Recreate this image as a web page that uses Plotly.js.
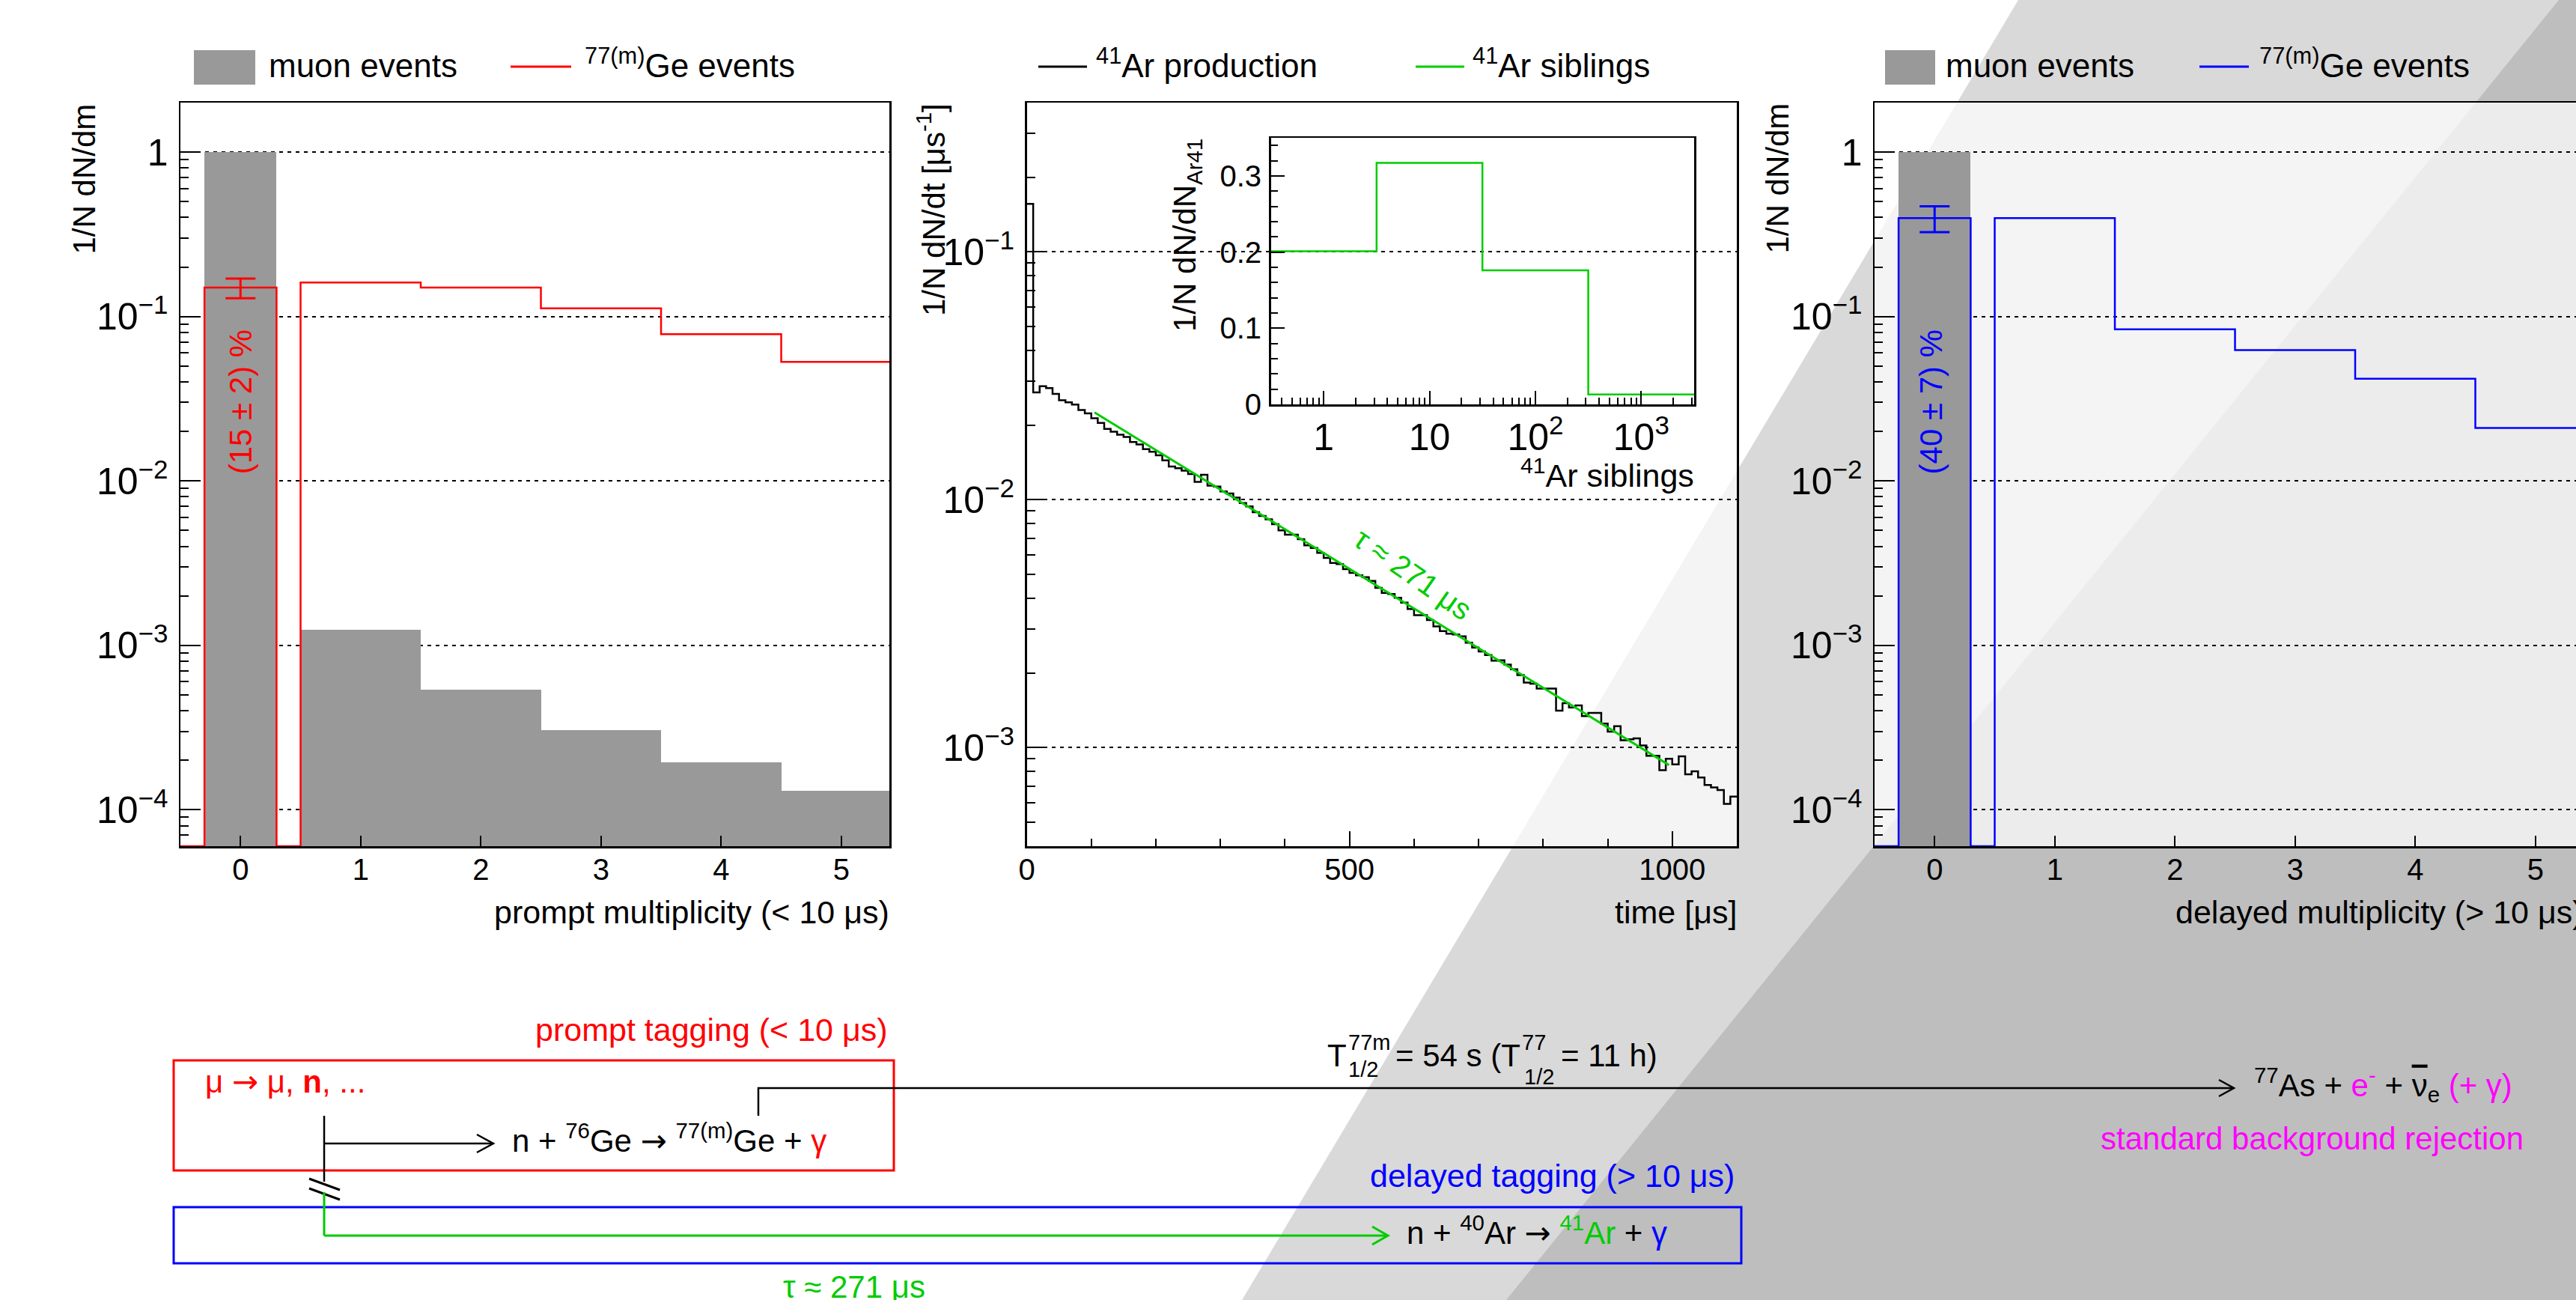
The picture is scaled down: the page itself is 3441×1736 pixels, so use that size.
<!DOCTYPE html>
<html><head><meta charset="utf-8">
<script src="https://cdn.plot.ly/plotly-3.0.1.min.js"></script>
<style>html,body{margin:0;padding:0;overflow:hidden;background:#fff;}#chart{width:3460px;height:1736px;}</style>
</head><body><div id="chart"></div>
<script>
// ---------------- data ----------------
// left panel: prompt multiplicity (< 10 us)
const multiplicity = [0, 1, 2, 3, 4, 5];
const muonBinWidth = [0.6, 1, 1, 1, 1, 1];
const muonPromptFrac = [1, 1.24e-3, 5.4e-4, 3.04e-4, 1.95e-4, 1.31e-4];
const geBinEdges = [-0.5, -0.3, 0.3, 0.5, 1.5, 2.5, 3.5, 4.5, 5.5];
const gePromptFrac = [0, 0.150, 0, 0.161, 0.150, 0.112, 0.078, 0.053];
const gePromptTag = 0.15, gePromptErrUp = 0.020, gePromptErrDown = 0.021;
// right panel: delayed multiplicity (> 10 us)
const muonDelayedX = [0];
const muonDelayedWidth = [0.6];
const muonDelayedFrac = [1];
const geDelayedFrac = [0, 0.397, 0, 0.397, 0.0836, 0.0625, 0.0418, 0.021];
const geDelayedTag = 0.397, geDelayedErrUp = 0.071, geDelayedErrDown = 0.071;
// middle panel: 41Ar production time, 10 us bins from 0 to 1100 us
const arBinWidth = 10;
const arProduction = [
 0.156, 0.0271, 0.0287, 0.0282, 0.0267, 0.0252, 0.0247, 0.0242, 0.0230, 0.0223,
 0.0213, 0.0204, 0.0193, 0.0188, 0.0183, 0.0179, 0.0171, 0.0167, 0.0160, 0.0156,
 0.0151, 0.0144, 0.0136, 0.0134, 0.0131, 0.0127, 0.0118, 0.0126, 0.0114, 0.0113,
 0.0108, 0.0106, 0.0102, 0.0097, 0.0094, 0.0089, 0.0086, 0.00834, 0.00796, 0.00752,
 0.00722, 0.00722, 0.00693, 0.00654, 0.00639, 0.00610, 0.00582, 0.00556, 0.00550, 0.00525,
 0.00507, 0.00495, 0.00487, 0.00470, 0.00441, 0.00421, 0.00416, 0.00402, 0.00384, 0.00362,
 0.00342, 0.00342, 0.00327, 0.00308, 0.00295, 0.00288, 0.00286, 0.00281, 0.00265, 0.00253,
 0.00244, 0.00236, 0.00224, 0.00225, 0.00216, 0.00207, 0.00196, 0.00183, 0.00181, 0.00173,
 0.00173, 0.00173, 0.00141, 0.00151, 0.00145, 0.00148, 0.00134, 0.00138, 0.00138, 0.00125,
 0.00116, 0.00122, 0.00107, 0.00108, 0.00109, 0.00102, 0.000927, 0.000927, 0.000811, 0.000901,
 0.000856, 0.000922, 0.000780, 0.000802, 0.000757, 0.000706, 0.000690, 0.000674, 0.000593, 0.000634
];
const fitTime = [105, 995];
const fitRate = [0.0225, 0.00085];
// inset: 41Ar siblings
const siblingEdges = [0.316, 3.16, 31.6, 316, 3162];
const siblingFrac = [0.201, 0.317, 0.176, 0.013];

// ---------------- helpers ----------------
const W = 3460, H = 1736;
const px = v => v / W;
const py = v => 1 - v / H;
const FONT = 'Liberation Sans, Arial, Helvetica, sans-serif';
const RED = '#ff0000', BLUE = '#0000ff', GREEN = '#00cc00', MAG = '#ff00ff', GREY = '#999999';
const LOGMIN = 6e-5;
const ARR = '<span style="font-family:DejaVu Sans">→</span>';

function steps(edges, vals, floor) {
  const y = vals.map(v => v > 0 ? v : floor);
  y.push(y[y.length - 1]);
  return {x: edges.slice(), y: y};
}
const arEdges = arProduction.map((_, i) => i * arBinWidth).concat([arProduction.length * arBinWidth]);

const gePromptStep = steps(geBinEdges, gePromptFrac, LOGMIN);
const geDelayedStep = steps(geBinEdges, geDelayedFrac, LOGMIN);
const arStep = steps(arEdges, arProduction, 1e-6);
const sibStep = steps(siblingEdges, siblingFrac, 0);

// ---------------- traces ----------------
const traces = [
  {type: 'bar', x: multiplicity, y: muonPromptFrac, width: muonBinWidth, marker: {color: GREY, line: {width: 0}},
   xaxis: 'x', yaxis: 'y', name: 'muon events', showlegend: false, hoverinfo: 'skip'},
  {type: 'scatter', mode: 'lines', x: gePromptStep.x, y: gePromptStep.y, line: {color: RED, width: 2.5, shape: 'hv'},
   xaxis: 'x', yaxis: 'y', name: '77(m)Ge events', showlegend: false},
  {type: 'scatter', mode: 'markers', x: [0], y: [gePromptTag], marker: {size: 1, color: 'rgba(0,0,0,0)'},
   error_y: {type: 'data', symmetric: false, array: [gePromptErrUp], arrayminus: [gePromptErrDown], color: RED, thickness: 3, width: 20},
   xaxis: 'x', yaxis: 'y', showlegend: false},

  {type: 'scatter', mode: 'lines', x: arStep.x, y: arStep.y, line: {color: 'black', width: 2.5, shape: 'hv'},
   xaxis: 'x2', yaxis: 'y2', name: '41Ar production', showlegend: false},
  {type: 'scatter', mode: 'lines', x: fitTime, y: fitRate, line: {color: GREEN, width: 3},
   xaxis: 'x2', yaxis: 'y2', name: 'fit', showlegend: false},

  {type: 'scatter', mode: 'lines', x: sibStep.x, y: sibStep.y, line: {color: GREEN, width: 2.5, shape: 'hv'},
   xaxis: 'x3', yaxis: 'y3', name: '41Ar siblings', showlegend: false},

  {type: 'bar', x: muonDelayedX, y: muonDelayedFrac, width: muonDelayedWidth, marker: {color: GREY, line: {width: 0}},
   xaxis: 'x4', yaxis: 'y4', showlegend: false},
  {type: 'scatter', mode: 'lines', x: geDelayedStep.x, y: geDelayedStep.y, line: {color: BLUE, width: 2.5, shape: 'hv'},
   xaxis: 'x4', yaxis: 'y4', showlegend: false},
  {type: 'scatter', mode: 'markers', x: [0], y: [geDelayedTag], marker: {size: 1, color: 'rgba(0,0,0,0)'},
   error_y: {type: 'data', symmetric: false, array: [geDelayedErrUp], arrayminus: [geDelayedErrDown], color: BLUE, thickness: 3, width: 20},
   xaxis: 'x4', yaxis: 'y4', showlegend: false}
];

// ---------------- axes ----------------
const tickfont = {family: FONT, size: 40, color: 'black'};
const base = {showline: true, linecolor: 'black', linewidth: 2.5, mirror: true, ticks: 'inside', tickcolor: 'black',
  tickwidth: 2, zeroline: false, showgrid: false, tickfont: tickfont, automargin: false, fixedrange: true};
const logY = (dom, range, anchor) => Object.assign({}, base, {domain: dom, anchor: anchor, type: 'log', range: range, dtick: 1,
  exponentformat: 'power', ticklen: 22, showgrid: true, gridcolor: 'black', gridwidth: 2, griddash: '5px,6px',
  ticklabelstandoff: 6,
  minor: {ticks: 'inside', ticklen: 11, tickwidth: 2, tickcolor: 'black', dtick: 'D1', showgrid: false}});
const multX = (dom, anchor) => Object.assign({}, base, {domain: dom, anchor: anchor, range: [-0.5, 5.4],
  tickvals: multiplicity, ticklen: 14, ticklabelstandoff: -6});
const yDom = [py(1130), py(137)];

const layout = {
  width: W, height: H, autosize: false,
  margin: {l: 0, r: 0, t: 0, b: 0, pad: 0},
  paper_bgcolor: 'white', plot_bgcolor: 'rgba(0,0,0,0)',
  font: {family: FONT, color: 'black'},
  showlegend: false, hovermode: false, bargap: 0,
  xaxis: multX([px(241), px(1188)], 'y'),
  yaxis: logY(yDom, [Math.log10(LOGMIN), Math.log10(2)], 'x'),
  xaxis2: Object.assign({}, base, {domain: [px(1371.5), px(2320)], anchor: 'y2', range: [0, 1100], dtick: 500,
    ticklen: 20, ticklabelstandoff: -6, minor: {ticks: 'inside', ticklen: 10, tickwidth: 2, tickcolor: 'black', dtick: 100}}),
  yaxis2: logY(yDom, [Math.log10(4e-4), Math.log10(0.4)], 'x2'),
  xaxis3: Object.assign({}, base, {domain: [px(1697.5), px(2263)], anchor: 'y3', type: 'log', range: [-0.5, 3.5], dtick: 1,
    exponentformat: 'power', ticklen: 18, ticklabelstandoff: 0,
    minor: {ticks: 'inside', ticklen: 9, tickwidth: 2, tickcolor: 'black', dtick: 'D1'}}),
  yaxis3: Object.assign({}, base, {domain: [py(540), py(184)], anchor: 'x3', range: [0, 0.35], dtick: 0.1,
    ticklen: 18, ticklabelstandoff: 2, minor: {ticks: 'inside', ticklen: 9, tickwidth: 2, tickcolor: 'black', dtick: 0.02}}),
  xaxis4: multX([px(2504), px(3451)], 'y4'),
  yaxis4: logY(yDom, [Math.log10(LOGMIN), Math.log10(2)], 'x4')
};

// ---------------- shapes ----------------
const P = (x, y) => px(x).toFixed(5) + ',' + py(y).toFixed(5);
const shp = [];
// background bands
shp.push({type: 'path', xref: 'paper', yref: 'paper', layer: 'below', fillcolor: '#d9d9d9', line: {width: 0},
  path: 'M' + P(2696, 0) + 'L' + P(1659, H) + 'L' + P(W, H) + 'L' + P(W, 0) + 'Z'});
shp.push({type: 'path', xref: 'paper', yref: 'paper', layer: 'below', fillcolor: '#bebebe', line: {width: 0},
  path: 'M' + P(3418, 0) + 'L' + P(2012, H) + 'L' + P(W, H) + 'L' + P(W, 0) + 'Z'});
// translucent plot backgrounds
[[241, 1188], [1371.5, 2320], [2504, 3451]].forEach(([a, b]) => shp.push({type: 'rect', xref: 'paper', yref: 'paper',
  layer: 'below', x0: px(a), x1: px(b), y0: py(1130), y1: py(137), fillcolor: 'rgba(255,255,255,0.71)', line: {width: 0}}));
// legend keys
const rectK = (x0, x1, y0, y1, c) => ({type: 'rect', xref: 'paper', yref: 'paper', x0: px(x0), x1: px(x1), y0: py(y1), y1: py(y0), fillcolor: c, line: {width: 0}});
const lineK = (x0, y0, x1, y1, c, w) => ({type: 'line', xref: 'paper', yref: 'paper', x0: px(x0), y0: py(y0), x1: px(x1), y1: py(y1), line: {color: c, width: w || 3}});
const pathK = (pts, c, w) => ({type: 'path', xref: 'paper', yref: 'paper', path: 'M' + pts.map(p => P(p[0], p[1])).join('L'), line: {color: c, width: w || 3}});
shp.push(rectK(259, 341, 67, 113, GREY));
shp.push(lineK(682, 89, 763, 89, RED));
shp.push(lineK(1387, 89, 1452, 89, 'black'));
shp.push(lineK(1891, 89, 1956, 89, GREEN));
shp.push(rectK(2518, 2585, 67, 113, GREY));
shp.push(lineK(2938, 89, 3004, 89, BLUE));
// diagram
shp.push({type: 'rect', xref: 'paper', yref: 'paper', x0: px(232), x1: px(1194), y0: py(1563), y1: py(1416), line: {color: RED, width: 3}, fillcolor: 'rgba(0,0,0,0)'});
shp.push({type: 'rect', xref: 'paper', yref: 'paper', x0: px(232), x1: px(2326), y0: py(1687), y1: py(1612), line: {color: BLUE, width: 3}, fillcolor: 'rgba(0,0,0,0)'});
shp.push(lineK(433, 1490, 433, 1578, 'black', 2.5));
shp.push(lineK(413, 1574, 454, 1589, 'black', 3));
shp.push(lineK(413, 1587, 454, 1602, 'black', 3));
shp.push(lineK(433, 1592, 433, 1650, GREEN, 3));
shp.push(lineK(433, 1650, 1853, 1650, GREEN, 3));
shp.push(pathK([[1833, 1638], [1854, 1650], [1833, 1662]], GREEN, 3));
shp.push(lineK(433, 1527, 658, 1527, 'black', 2.5));
shp.push(pathK([[637, 1515], [659, 1527], [637, 1539]], 'black', 2.5));
shp.push(pathK([[1013, 1490], [1013, 1453], [2983, 1453]], 'black', 2.5));
shp.push(pathK([[2964, 1442], [2984, 1453], [2964, 1464]], 'black', 2.5));
layout.shapes = shp;

// ---------------- annotations ----------------
function tb(text, x, baseline, o) {
  o = o || {};
  const size = o.size || 42;
  const extra = o.extra || 0;
  return {xref: 'paper', yref: 'paper', x: px(x), y: py(baseline + 0.212 * size + extra), text: text, showarrow: false,
    xanchor: o.anchor || 'left', yanchor: 'bottom', borderpad: 0, borderwidth: 0,
    font: {family: FONT, size: size, color: o.color || 'black'}};
}
function rot(text, x, ytop, o) {
  o = o || {};
  return {xref: 'paper', yref: 'paper', x: px(x), y: py(ytop), text: text, showarrow: false, textangle: -90,
    xanchor: 'center', yanchor: 'top', borderpad: 0, borderwidth: 0,
    font: {family: FONT, size: o.size || 42, color: o.color || 'black'}};
}
const ann = [];
// legends
ann.push(tb('muon events', 359, 103, {size: 44}));
ann.push(tb('<sup>77(m)</sup>Ge events', 781, 103, {size: 44}));
ann.push(tb('<sup>41</sup>Ar production', 1464, 103, {size: 44}));
ann.push(tb('<sup>41</sup>Ar siblings', 1967, 103, {size: 44}));
ann.push(tb('muon events', 2599, 103, {size: 44}));
ann.push(tb('<sup>77(m)</sup>Ge events', 3018, 103, {size: 44}));
// axis titles
ann.push(tb('prompt multiplicity (< 10 μs)', 1188, 1233, {anchor: 'right', size: 43}));
ann.push(tb('time [μs]', 2320, 1233, {anchor: 'right', size: 43}));
ann.push(tb('delayed multiplicity (> 10 μs)', 3451, 1233, {anchor: 'right', size: 43}));
ann.push(rot('1/N dN/dm', 112, 138));
ann.push(rot('1/N dN/dt [μs<sup>-1</sup>]', 1244, 138));
ann.push(rot('1/N dN/dm', 2374, 138));
ann.push(rot('1/N dN/dN<sub>Ar41</sub>', 1586, 185));
ann.push(tb('<sup>41</sup>Ar siblings', 2263, 650, {anchor: 'right', size: 43}));
// in-plot labels
ann.push({xref: 'x', yref: 'paper', x: 0, y: py(537), text: '(15 ± 2) %', showarrow: false, textangle: -90,
  xanchor: 'center', yanchor: 'middle', font: {family: FONT, size: 42, color: RED}});
ann.push({xref: 'x4', yref: 'paper', x: -0.03, y: py(537), text: '(40 ± 7) %', showarrow: false, textangle: -90,
  xanchor: 'center', yanchor: 'middle', font: {family: FONT, size: 42, color: BLUE}});
ann.push({xref: 'paper', yref: 'paper', x: px(1888), y: py(767), text: 'τ ≈ 271 μs', showarrow: false, textangle: 35,
  xanchor: 'center', yanchor: 'middle', font: {family: FONT, size: 40, color: GREEN}});
// diagram text
ann.push(tb('prompt tagging (< 10 μs)', 1186, 1390, {anchor: 'right', color: RED, size: 43}));
ann.push(tb('μ ' + ARR + ' μ, <b>n</b>, ...', 274, 1460, {color: RED}));
ann.push(tb('n + <sup>76</sup>Ge ' + ARR + ' <sup>77(m)</sup>Ge + <span style="color:#ff0000">γ</span>', 684, 1539));
ann.push(tb('T', 1773, 1424));
ann.push(tb('77m', 1801, 1402, {size: 29}));
ann.push(tb('1/2', 1801, 1438, {size: 29}));
ann.push(tb('= 54 s (T', 1864, 1424));
ann.push(tb('77', 2033, 1402, {size: 29}));
ann.push(tb('1/2', 2036, 1448, {size: 29}));
ann.push(tb('= 11 h)', 2085, 1424));
ann.push(tb('<sup>77</sup>As + <span style="color:#ff00ff">e<sup>-</sup></span> + <span style="text-decoration:overline">ν</span><sub>e</sub> <span style="color:#ff00ff">(+ γ)</span>', 3011, 1463, {extra: 6}));
ann.push(tb('standard background rejection', 3371, 1535, {anchor: 'right', color: MAG}));
ann.push(tb('delayed tagging (> 10 μs)', 2317, 1585, {anchor: 'right', color: BLUE, size: 43}));
ann.push(tb('n + <sup>40</sup>Ar ' + ARR + ' <span style="color:#00cc00"><sup>41</sup>Ar</span> + <span style="color:#0000ff">γ</span>', 1879, 1662));
ann.push(tb('τ ≈ 271 μs', 1046, 1733, {color: GREEN}));
layout.annotations = ann;

Plotly.newPlot('chart', traces, layout, {displayModeBar: false, staticPlot: true});
</script>
</body></html>
